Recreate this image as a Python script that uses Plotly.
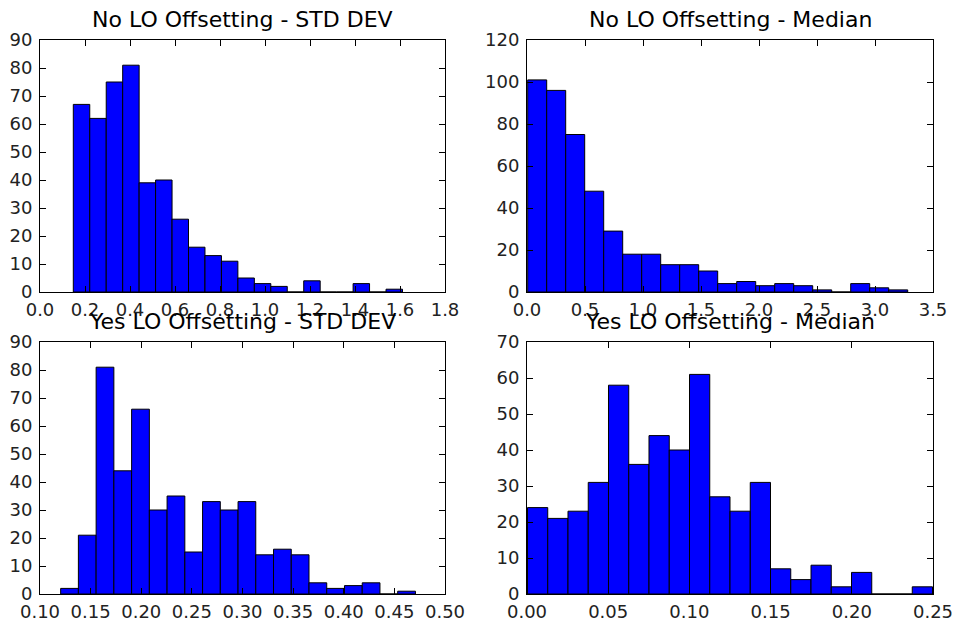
import numpy as np
import plotly.graph_objects as go

# ---- data (histogram counts, 20 bins each) ----
no_std_counts = [67, 62, 75, 81, 39, 40, 26, 16, 13, 11, 5, 3, 2, 0, 4, 0, 0, 3, 0, 1]
no_std_range = (0.148, 1.611)

no_med_counts = [101, 96, 75, 48, 29, 18, 18, 13, 13, 10, 4, 5, 3, 4, 3, 1, 0, 4, 2, 1]
no_med_range = (0.006, 3.282)

yes_std_counts = [2, 21, 81, 44, 66, 30, 35, 15, 33, 30, 33, 14, 16, 14, 4, 2, 3, 4, 0, 1]
yes_std_range = (0.1204, 0.4708)

yes_med_counts = [24, 21, 23, 31, 58, 36, 44, 40, 61, 27, 23, 31, 7, 4, 8, 2, 6, 0, 0, 2]
yes_med_range = (0.0003, 0.2497)

titles = ["No LO Offsetting - STD DEV", "No LO Offsetting - Median",
          "Yes LO Offsetting - STD DEV", "Yes LO Offsetting - Median"]

x_ticks = [
    [0.0, 0.2, 0.4, 0.6, 0.8, 1.0, 1.2, 1.4, 1.6, 1.8],
    [0.0, 0.5, 1.0, 1.5, 2.0, 2.5, 3.0, 3.5],
    [0.10, 0.15, 0.20, 0.25, 0.30, 0.35, 0.40, 0.45, 0.50],
    [0.00, 0.05, 0.10, 0.15, 0.20, 0.25],
]
x_fmt = [".1f", ".1f", ".2f", ".2f"]
y_ticks = [
    list(range(0, 91, 10)),
    list(range(0, 121, 20)),
    list(range(0, 91, 10)),
    list(range(0, 71, 10)),
]

hists = [(no_std_counts, no_std_range), (no_med_counts, no_med_range),
         (yes_std_counts, yes_std_range), (yes_med_counts, yes_med_range)]

# ---- layout geometry (pixels) ----
W, H = 954, 619
boxes = [  # left, right, top, bottom in px
    (40, 445, 40, 292),
    (527, 933, 40, 292),
    (40, 445, 342, 594),
    (527, 933, 342, 594),
]

FONT = "DejaVu Sans"
fig = go.Figure()
layout = dict(
    width=W, height=H,
    margin=dict(l=0, r=0, t=0, b=0, autoexpand=False),
    paper_bgcolor="white", plot_bgcolor="white",
    showlegend=False,
    font=dict(family=FONT, size=18, color="black"),
    annotations=[],
)

for i, ((counts, (lo, hi)), box) in enumerate(zip(hists, boxes)):
    n = len(counts)
    edges = np.linspace(lo, hi, n + 1)
    centers = (edges[:-1] + edges[1:]) / 2
    bw = edges[1] - edges[0]
    xa = "x" if i == 0 else f"x{i+1}"
    ya = "y" if i == 0 else f"y{i+1}"
    fig.add_trace(go.Bar(
        x=centers, y=counts, width=bw,
        marker=dict(color="#0000ff", line=dict(color="black", width=1)),
        xaxis=xa, yaxis=ya, hoverinfo="x+y",
    ))
    l, r, t, b = box
    xk = "xaxis" if i == 0 else f"xaxis{i+1}"
    yk = "yaxis" if i == 0 else f"yaxis{i+1}"
    common = dict(
        showline=True, linecolor="black", linewidth=1, mirror="ticks",
        ticks="inside", ticklen=6, tickwidth=1, tickcolor="black",
        showgrid=False, zeroline=False, automargin=False,
        tickfont=dict(family=FONT, size=18, color="#222"),
    )
    layout[xk] = dict(
        domain=[l / W, r / W], anchor=ya,
        range=[x_ticks[i][0], x_ticks[i][-1]],
        tickvals=x_ticks[i], tickformat=x_fmt[i], ticklabelstandoff=1,
        **common,
    )
    layout[yk] = dict(
        domain=[1 - b / H, 1 - t / H], anchor=xa,
        range=[y_ticks[i][0], y_ticks[i][-1]],
        tickvals=y_ticks[i], ticklabelstandoff=3,
        **common,
    )
    layout["annotations"].append(dict(
        text=titles[i], x=(l + r) / 2 / W, y=1 - t / H,
        xref="paper", yref="paper", xanchor="center", yanchor="bottom",
        yshift=6, showarrow=False,
        font=dict(family=FONT, size=22, color="black"),
    ))

fig.update_layout(**layout)
fig.write_html("out.html")
